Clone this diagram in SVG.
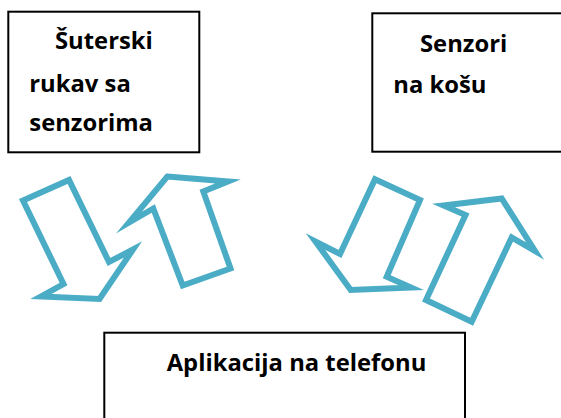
<svg xmlns="http://www.w3.org/2000/svg" width="561" height="418" viewBox="0 0 561 418">
<style>
.box{fill:#fff;stroke:#000;stroke-width:2}
.t{font-family:"Open Sans","Liberation Sans",sans-serif;font-weight:700;font-size:23.8px;fill:#000}
.arr{fill:#fff;stroke:#4BACC6;stroke-width:6;stroke-linejoin:miter;stroke-miterlimit:10}
</style>
<rect width="561" height="418" fill="#fff"/>
<g id="connectors">
<polygon class="arr" points="23,200.5 69,180 109,262 133,249.5 99.5,299 41,296.5 63.5,284"/>
<polygon class="arr" points="167.3,176.5 228,181.5 203.3,191.5 230.5,268.5 182.7,285.5 153.3,208.5 129,222.5"/>
<polygon class="arr" points="375,179.3 420,200 386.7,276.7 411,287.5 350.7,290 315.5,241.5 340,254"/>
<polygon class="arr" points="443.5,205.5 501.7,198.5 535,251 511.7,237.5 471.7,321.7 426,300 465.5,215"/>
</g>
<g id="node-rukav">
<rect class="box" x="8.3" y="11.7" width="191" height="140.6"/>
<text class="t" x="55" y="49">Šuterski</text>
<text class="t" x="29.3" y="91.5">rukav sa</text>
<text class="t" x="29.3" y="131">senzorima</text>
</g>
<g id="node-senzori">
<rect class="box" x="372.3" y="13.3" width="200" height="138.4"/>
<text class="t" x="420" y="52">Senzori</text>
<text class="t" x="393.3" y="92.5">na košu</text>
</g>
<g id="node-aplikacija">
<rect class="box" x="104.3" y="332.7" width="360.7" height="100"/>
<text class="t" x="166.7" y="371">Aplikacija na telefonu</text>
</g>
</svg>
